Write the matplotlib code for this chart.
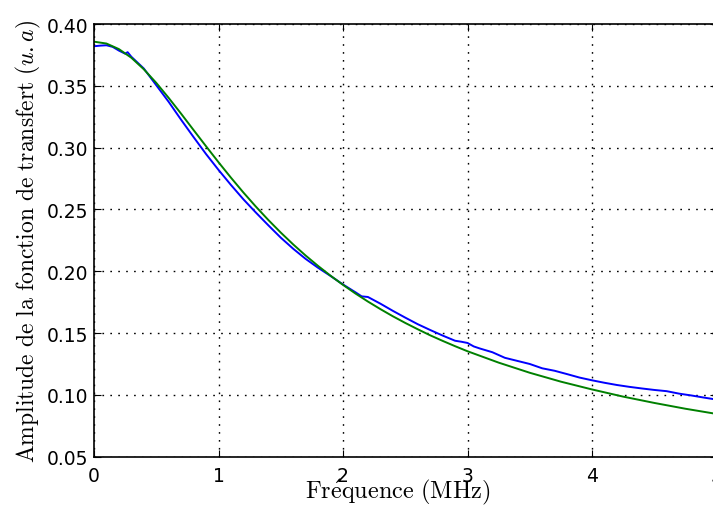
import numpy as np
import matplotlib
matplotlib.use("Agg")
import matplotlib.pyplot as plt
from matplotlib.ticker import FormatStrFormatter

# measured transfer function amplitude (blue)
f_mes = [0.00, 0.05, 0.10, 0.15, 0.20, 0.25, 0.27, 0.30, 0.40, 0.50, 0.60, 0.70,
         0.80, 0.90, 1.00, 1.10, 1.20, 1.30, 1.40, 1.50, 1.60, 1.70, 1.80, 1.90,
         2.00, 2.10, 2.15, 2.20, 2.30, 2.40, 2.50, 2.60, 2.70, 2.80, 2.90, 2.95,
         3.00, 3.05, 3.10, 3.20, 3.30, 3.40, 3.50, 3.60, 3.70, 3.80, 3.90, 4.00,
         4.10, 4.20, 4.30, 4.40, 4.50, 4.60, 4.70, 4.80, 4.90, 5.00]
a_mes = [0.3820, 0.3825, 0.3828, 0.3815, 0.3785, 0.3760, 0.3772, 0.3735, 0.3640, 0.3505, 0.3370, 0.3225,
         0.3085, 0.2948, 0.2820, 0.2698, 0.2582, 0.2475, 0.2372, 0.2272, 0.2182, 0.2100, 0.2028, 0.1962,
         0.1893, 0.1830, 0.1797, 0.1792, 0.1738, 0.1680, 0.1625, 0.1572, 0.1525, 0.1480, 0.1438, 0.1430,
         0.1420, 0.1392, 0.1375, 0.1345, 0.1300, 0.1275, 0.1250, 0.1215, 0.1195, 0.1168, 0.1140, 0.1118,
         0.1098, 0.1080, 0.1065, 0.1052, 0.1040, 0.1030, 0.1010, 0.0995, 0.0978, 0.0962]

# fitted model (green)
f_fit = [0.0, 0.1, 0.2, 0.3, 0.4, 0.5, 0.6, 0.7, 0.8, 0.9, 1.0, 1.1, 1.2, 1.3, 1.4,
         1.5, 1.6, 1.7, 1.8, 1.9, 2.0, 2.1, 2.2, 2.3, 2.4, 2.5, 2.6, 2.7, 2.8, 2.9,
         3.0, 3.25, 3.5, 3.75, 4.0, 4.25, 4.5, 4.75, 5.0]
a_fit = [0.3857, 0.3842, 0.3797, 0.3727, 0.3634, 0.3524, 0.3402, 0.3274, 0.3142, 0.3011,
         0.2882, 0.2757, 0.2637, 0.2523, 0.2415, 0.2313, 0.2217, 0.2127, 0.2043, 0.1964,
         0.1890, 0.1820, 0.1755, 0.1694, 0.1636, 0.1582, 0.1531, 0.1482, 0.1437, 0.1394,
         0.1353, 0.1261, 0.1179, 0.1107, 0.1044, 0.0986, 0.0935, 0.0888, 0.0846]

yticks = [0.05, 0.10, 0.15, 0.20, 0.25, 0.30, 0.35, 0.40]
xticks = [0, 1, 2, 3, 4, 5]

plt.rcParams['mathtext.fontset'] = 'cm'

fig = plt.figure(figsize=(7.13, 5.06), dpi=100)
ax = fig.add_axes([94/713, 48.3/506, 622.5/713, 432.7/506])

ax.plot(f_mes, a_mes, color='#0000ff', lw=1.4)
ax.plot(f_fit, a_fit, color='#008000', lw=1.4)

ax.set_xlim(0, 5)
ax.set_ylim(0.05, 0.40)
ax.set_xticks(xticks)
ax.set_yticks(yticks)
ax.yaxis.set_major_formatter(FormatStrFormatter('%.2f'))

ax.grid(True, color='k', linestyle=(0, (1.2, 4.5)), lw=1.0)
ax.tick_params(direction='in', length=5, width=0.8, top=True, right=True,
               labelsize=13.5)
ax.tick_params(axis='x', pad=7)
ax.tick_params(axis='y', pad=4)
for s in ax.spines.values():
    s.set_linewidth(1.2)

ax.set_xlabel(r'$\mathrm{Fr\acute{e}quence\ (MHz)}$', fontsize=17.5)
ax.xaxis.set_label_coords(0.488, -0.047)
ax.set_ylabel(r'$\mathrm{Amplitude\ de\ la\ fonction\ de\ transfert}\ (u.a)$',
              fontsize=17, labelpad=3)

fig.savefig('out.png', dpi=100)
